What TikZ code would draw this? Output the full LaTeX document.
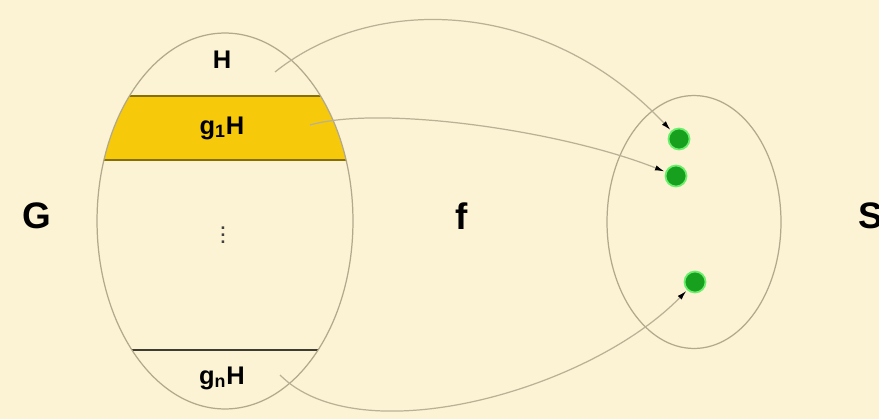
\documentclass[tikz,border=0pt]{standalone}
\usepackage{fontspec}
\setmainfont{Liberation Sans}
\usetikzlibrary{shapes.geometric, arrows.meta, positioning}
\definecolor{paper}{RGB}{252,243,212}
\definecolor{cosetyellow}{RGB}{246,202,10}
\definecolor{rimgray}{RGB}{178,168,140}
\definecolor{dotgreen}{RGB}{22,160,30}
\definecolor{mapline}{RGB}{186,176,150}

\begin{document}
\begin{tikzpicture}[x=0.02cm, y=-0.02cm,
    setbox/.style={ellipse, draw=rimgray, line width=0.7pt, inner sep=0pt},
    coset/.style={font=\bfseries\fontsize{14.5}{16}\selectfont},
    bigname/.style={font=\bfseries\fontsize{21}{23}\selectfont},
    point/.style={circle, fill=dotgreen, minimum size=0.42cm, inner sep=0pt,
                  draw=green!70!dotgreen!60, line width=1pt, outer sep=1pt},
    maps/.style={draw=mapline, line width=0.7pt,
                 -{Latex[length=5.5pt, width=3pt, color=black]}}
]
    \fill[paper] (0,0) rectangle (879,419);
    \useasboundingbox (0,0) rectangle (879,419);

    \begin{scope}
        \clip (225,221) ellipse [x radius=2.56cm, y radius=3.76cm];
        \fill[cosetyellow] (90,96) rectangle (360,160);
        \draw[black!45!cosetyellow, line width=0.7pt] (90,96) -- (360,96) (90,160) -- (360,160);
        \draw[black!65!rimgray, line width=1.4pt] (90,350) -- (360,350);
    \end{scope}
    \node[setbox, minimum width=5.12cm, minimum height=7.52cm] (grp) at (225,221) {};
    \node[setbox, minimum width=3.48cm, minimum height=5.06cm] (img) at (694,222) {};

    \node[coset] (h) at (222,60) {H};
    \node[coset] (g1h) at (222,128) {g\textsubscript{1}H};
    \node[font=\normalsize\bfseries, text=black!75] (dots) at (223,230) {$\vdots$};
    \node[coset] (gnh) at (222,378) {g\textsubscript{n}H};

    \node[bigname] (glabel) at (37,216) {G};
    \node[bigname] (flabel) at (462,216) {f};
    \node[bigname] (slabel) at (871,216) {S};

    \node[point] (s1) at (679,139) {};
    \node[point] (s2) at (676,176) {};
    \node[point] (s3) at (695,282) {};

    \coordinate (h-out) at (275,72);
    \coordinate (g1h-out) at (310,125);
    \coordinate (gnh-out) at (280,375);

    \draw[maps] (h-out) .. controls (375,-8) and (547,-1) .. (s1);
    \draw[maps] (g1h-out) .. controls (380,105) and (560,130) .. (s2);
    \draw[maps] (gnh-out) .. controls (360,455) and (590,390) .. (s3);
\end{tikzpicture}
\end{document}
